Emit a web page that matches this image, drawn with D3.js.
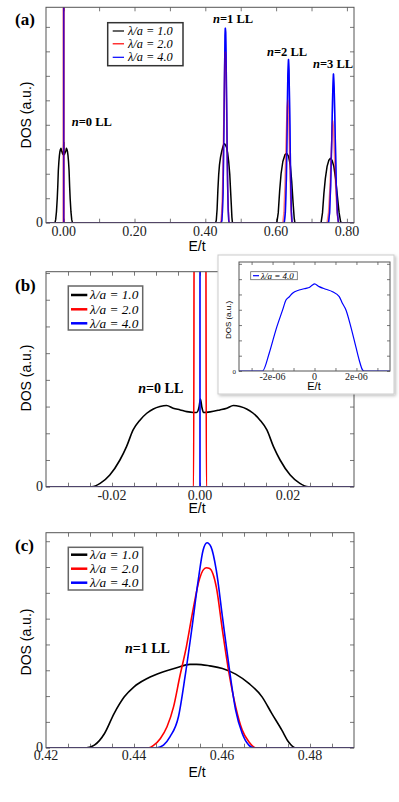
<!DOCTYPE html>
<html><head><meta charset="utf-8">
<script src="https://cdn.jsdelivr.net/npm/d3@7/dist/d3.min.js"></script>
<style>body{margin:0;background:#fff}svg{display:block}</style>
</head><body>
<svg id="c" width="399" height="802"></svg>
<script>
// ---------- data ----------
const seriesNames = ["λ/a = 1.0", "λ/a = 2.0", "λ/a = 4.0"];
const seriesColors = ["#000000", "#ff0000", "#0000ff"];
// [E/t, DOS] pairs
const black = [
 [-0.05,0],[-0.0246,0],[-0.0227,0.125],[-0.0205,0.44],[-0.0182,1.0],[-0.0167,1.5],[-0.0152,2.125],[-0.0136,2.5],[-0.0121,2.75],[-0.0106,2.91],[-0.0091,3.0],[-0.0076,3.04],[-0.0061,2.94],[-0.0045,2.875],[-0.0030,2.81],[-0.0015,2.78],[-0.0008,2.78],[-0.0002,3.0],[0.0001,3.28],[0.0004,3.0],[0.0008,2.78],[0.0023,2.8],[0.0045,2.875],[0.0061,2.94],[0.0076,3.04],[0.0091,3.0],[0.0106,2.91],[0.0121,2.75],[0.0136,2.5],[0.0152,2.125],[0.0167,1.5],[0.0182,1.0],[0.0205,0.44],[0.0227,0.125],[0.0246,0],
 [0.4292,0],[0.4310,0.10],[0.4333,0.55],[0.4355,1.33],[0.4378,1.97],[0.4400,2.36],[0.4430,2.68],[0.4467,2.94],[0.4497,3.10],[0.4527,3.23],[0.4542,3.23],[0.4572,3.17],[0.4601,3.07],[0.4631,2.85],[0.4661,2.49],[0.4691,1.97],[0.4713,1.33],[0.4736,0.68],[0.4751,0.23],[0.4766,0],
 [0.602,0],[0.606,0.4],[0.610,1.3],[0.614,2.0],[0.619,2.5],[0.625,2.78],[0.630,2.83],[0.635,2.72],[0.640,2.35],[0.644,1.7],[0.648,0.8],[0.651,0.2],[0.653,0],
 [0.727,0],[0.731,0.4],[0.735,1.2],[0.739,1.8],[0.744,2.3],[0.749,2.55],[0.753,2.63],[0.758,2.55],[0.763,2.3],[0.768,1.8],[0.773,1.1],[0.778,0.4],[0.782,0.05],[0.784,0],
 [0.82,0]
];
const red = [
 [-0.05,0],[-0.00145,0],[-0.0013,25],[-0.0008,90],[0,120],[0.0008,90],[0.0013,25],[0.00145,0],
 [0.4434,0],[0.4445,0.10],[0.4460,0.36],[0.4475,0.81],[0.4490,1.59],[0.4504,2.75],[0.4519,3.91],[0.4534,5.33],[0.4549,6.55],[0.4564,6.97],[0.4572,6.94],[0.4587,6.23],[0.4601,4.55],[0.4616,2.88],[0.4631,1.59],[0.4646,0.68],[0.4661,0.23],[0.4676,0],
 [0.619,0],[0.622,0.4],[0.625,1.5],[0.628,3.2],[0.631,4.7],[0.633,5.0],[0.635,4.6],[0.638,2.8],[0.641,1.0],[0.643,0.2],[0.645,0],
 [0.744,0],[0.748,0.4],[0.752,1.4],[0.756,2.9],[0.759,4.0],[0.760,4.16],[0.762,3.9],[0.765,2.7],[0.769,1.2],[0.773,0.3],[0.776,0],
 [0.82,0]
];
const blue = [
 [-0.05,0],[-0.0000025,0],[0,3000],[0.0000024,0],
 [0.4452,0],[0.4467,0.10],[0.4482,0.43],[0.4501,1.20],[0.4516,2.75],[0.4531,4.55],[0.4546,6.49],[0.4557,7.65],[0.4566,7.94],[0.4575,7.78],[0.4587,6.88],[0.4601,5.07],[0.4616,3.14],[0.4631,1.46],[0.4646,0.55],[0.4661,0.10],[0.4672,0],
 [0.623,0],[0.626,0.4],[0.629,1.8],[0.631,3.8],[0.633,6.0],[0.635,6.67],[0.6365,6.2],[0.639,4.0],[0.641,1.8],[0.643,0.5],[0.645,0],
 [0.748,0],[0.751,0.4],[0.754,1.5],[0.757,3.3],[0.760,5.4],[0.762,6.07],[0.764,5.5],[0.767,3.5],[0.770,1.5],[0.773,0.4],[0.776,0],
 [0.82,0]
];
const insetBlue = [
 [-3.6e-6,0],[-2.48e-6,0],[-2.16e-6,1.16],[-1.84e-6,2.69],[-1.52e-6,3.99],[-1.36e-6,4.64],[-1.2e-6,4.85],[-1.05e-6,5.08],[-0.73e-6,5.29],[-0.41e-6,5.40],[-0.25e-6,5.45],[-0.10e-6,5.62],[0,5.69],[0.22e-6,5.51],[0.54e-6,5.34],[0.86e-6,5.18],[1.18e-6,4.86],[1.33e-6,4.42],[1.50e-6,3.99],[1.73e-6,2.90],[1.97e-6,1.59],[2.13e-6,0.72],[2.29e-6,0.07],[2.37e-6,0],[3.6e-6,0]
];
// ticks
const xTicksA = [0,0.1,0.2,0.3,0.4,0.5,0.6,0.7,0.8];
const xLabelsA = [[0,"0.00"],[0.2,"0.20"],[0.4,"0.40"],[0.6,"0.60"],[0.8,"0.80"]];
const xTicksB = [-0.03,-0.025,-0.02,-0.015,-0.01,-0.005,0,0.005,0.01,0.015,0.02,0.025,0.03];
const xLabelsB = [[-0.02,"-0.02"],[0,"0.00"],[0.02,"0.02"]];
const xTicksC = [0.425,0.43,0.435,0.44,0.445,0.45,0.455,0.46,0.465,0.47,0.475,0.48,0.485];
const xLabelsC = [[0.42,"0.42"],[0.44,"0.44"],[0.46,"0.46"],[0.48,"0.48"]];
const xTicksInset = [-3e-6,-2e-6,-1e-6,0,1e-6,2e-6,3e-6];
const xLabelsInset = [[-2e-6,"-2e-06"],[0,"0"],[2e-6,"2e-06"]];
const yTicksMain = [0,1,2,3,4,5,6,7,8];
const yTicksInset = [0,1,2,3,4,5,6,7];

// ---------- drawing ----------
const svg = d3.select("#c");
const serif = "Liberation Serif, Times New Roman, serif";
const sans = "Liberation Sans, Arial, sans-serif";
const frameCol = "#555";
let clipId = 0;

function panel(o){
  const x = d3.scaleLinear().domain(o.xDomain).range([o.left,o.right]);
  const y = d3.scaleLinear().domain(o.yDomain).range([o.bottom,o.top]);
  const g = svg.append("g");
  const id = "clip"+(clipId++);
  g.append("clipPath").attr("id",id).append("rect")
    .attr("x",o.left).attr("y",o.top).attr("width",o.right-o.left).attr("height",o.bottom-o.top);
  const tl = o.tickLen||4;
  const axB = d3.axisBottom(x).tickValues(o.xTicks).tickSize(-tl).tickFormat("");
  const axT = d3.axisTop(x).tickValues(o.xTicks).tickSize(-tl).tickFormat("");
  const axL = d3.axisLeft(y).tickValues(o.yTicks).tickSize(-tl).tickFormat("");
  const axR = d3.axisRight(y).tickValues(o.yTicks).tickSize(-tl).tickFormat("");
  [[axB,`translate(0,${o.bottom})`],[axT,`translate(0,${o.top})`],[axL,`translate(${o.left},0)`],[axR,`translate(${o.right},0)`]].forEach(([ax,tr])=>{
    const a = g.append("g").attr("transform",tr).call(ax);
    a.select(".domain").remove();
    a.selectAll("line").attr("stroke",frameCol).attr("stroke-width",0.8);
  });
  const line = d3.line().x(d=>x(d[0])).y(d=>y(Math.min(d[1], o.yDomain[1]*1.5))).curve(o.curve||d3.curveMonotoneX);
  if (line.digits) line.digits(null);
  const lg = g.append("g").attr("clip-path",`url(#${id})`);
  o.series.forEach((s,i)=>{
    lg.append("path").datum(s.data).attr("d",line).attr("fill","none")
      .attr("stroke",s.color).attr("stroke-width",o.lw)
      .attr("stroke-opacity",s.opacity||1).attr("stroke-linejoin","round").attr("stroke-linecap","round");
  });
  g.append("rect").attr("x",o.left).attr("y",o.top).attr("width",o.right-o.left).attr("height",o.bottom-o.top)
    .attr("fill","none").attr("stroke",frameCol).attr("stroke-width",1);
  g.selectAll(null).data(o.xLabels).enter().append("text")
    .attr("x",d=>x(d[0])).attr("y",o.labelY).attr("text-anchor","middle")
    .attr("font-family",serif).attr("font-size",o.tickFont).attr("fill","#222").text(d=>d[1]);
  g.append("text").attr("x",o.left-3).attr("y",o.bottom+o.tickFont*0.33).attr("text-anchor","end")
    .attr("font-family",serif).attr("font-size",o.tickFont*(o.zeroScale||1)).attr("fill","#222").text("0");
  g.append("text").attr("x",(o.left+o.right)/2+o.xtDx).attr("y",o.xtY).attr("text-anchor","middle")
    .attr("font-family",sans).attr("font-size",o.titleFont).text("E/t");
  g.append("text").attr("transform",`translate(${o.ytX},${o.ytY}) rotate(-90)`).attr("text-anchor","middle")
    .attr("font-family",sans).attr("font-size",o.yTitleFont||o.titleFont).text("DOS (a.u.)");
  return {x,y,g};
}

function legend(o){
  const g = svg.append("g");
  g.append("rect").attr("x",o.x0).attr("y",o.y0).attr("width",o.x1-o.x0).attr("height",o.y1-o.y0)
    .attr("fill","#fff").attr("stroke",o.border).attr("stroke-width",o.bw);
  o.items.forEach((it,i)=>{
    const yy = o.rows[i];
    g.append("line").attr("x1",o.lx0).attr("x2",o.lx1).attr("y1",yy).attr("y2",yy)
      .attr("stroke",it.color).attr("stroke-width",o.lw);
    g.append("text").attr("x",o.tx).attr("y",yy+o.font*0.33).attr("font-family",serif)
      .attr("font-style","italic").attr("font-size",o.font).text(it.name);
  });
}

function annot(x,y,num,size){
  const t = svg.append("text").attr("x",x).attr("y",y).attr("font-family",serif)
    .attr("font-weight","bold").attr("font-size",size);
  t.append("tspan").attr("font-style","italic").text("n");
  t.append("tspan").text("="+num+" LL");
}
function plabel(txt,y){
  svg.append("text").attr("x",15).attr("y",y).attr("font-family",serif).attr("font-weight","bold")
    .attr("font-size",17).text(txt);
}

const items = seriesNames.map((n,i)=>({name:n,color:seriesColors[i]}));

// Panel (a): blue drawn first, red semi-transparent on top gives the purple overlap at E=0
panel({left:46,right:354,top:7.3,bottom:222.7,xDomain:[-0.05,0.82],yDomain:[0,8.8],
  xTicks:xTicksA,xLabels:xLabelsA,yTicks:yTicksMain,lw:1.5,labelY:236,tickFont:14,
  xtY:251,xtDx:-3,ytX:31,ytY:115,titleFont:14,curve:d3.curveLinear,
  series:[{data:black,color:seriesColors[0]},{data:blue,color:seriesColors[2]},{data:red,color:seriesColors[1],opacity:0.5},{data:blue,color:seriesColors[2],opacity:0.45}]});
legend({x0:107.7,x1:183,y0:22.7,y1:65.7,rows:[31,43.8,57.3],lx0:112.7,lx1:124,tx:128,font:12.3,lw:1.2,border:"#333",bw:1.5,items});
annot(71.7,125.5,0,12.5); annot(213,23,1,12.5); annot(267,56,2,12.5); annot(313,68,3,12.5);
plabel("(a)",25);

// Panel (b)
panel({left:46,right:354,top:271.7,bottom:486.7,xDomain:[-0.035,0.035],yDomain:[0,8.05],
  xTicks:xTicksB,xLabels:xLabelsB,yTicks:yTicksMain,lw:1.6,labelY:500,tickFont:14,
  xtY:512.5,xtDx:-3,ytX:31,ytY:378,titleFont:14,
  series:[{data:black,color:seriesColors[0]},{data:red,color:seriesColors[1]},{data:blue,color:seriesColors[2]}]});
legend({x0:68.3,x1:142.7,y0:286,y1:330,rows:[295,309.3,323.3],lx0:71,lx1:87.3,tx:90,font:13.3,lw:2.5,border:"#666",bw:1.5,items});
annot(138.3,393,0,14);
plabel("(b)",291);

// Inset
const defs = svg.append("defs");
const f = defs.append("filter").attr("id","sh").attr("x","-10%").attr("y","-10%").attr("width","130%").attr("height","130%");
f.append("feDropShadow").attr("dx",1.5).attr("dy",1.5).attr("stdDeviation",1.5).attr("flood-color","#000").attr("flood-opacity",0.25);
svg.append("rect").attr("x",218).attr("y",255).attr("width",176).attr("height",139)
  .attr("fill","#fff").attr("stroke","#ccc").attr("stroke-width",1).attr("filter","url(#sh)");
panel({left:239,right:390,top:262,bottom:371,xDomain:[-3.6e-6,3.6e-6],yDomain:[0,7.12],
  xTicks:xTicksInset,xLabels:xLabelsInset,yTicks:yTicksInset,lw:1.2,labelY:379.5,tickFont:10,tickLen:3,
  zeroScale:0.7,xtY:390,xtDx:-0.5,ytX:231,ytY:320,titleFont:11,yTitleFont:8,
  series:[{data:insetBlue,color:seriesColors[2]}]});
legend({x0:250.7,x1:297.3,y0:271.7,y1:279.7,rows:[275.7],lx0:253,lx1:259,tx:261,font:9,lw:1.2,border:"#666",bw:0.8,
  items:[items[2]]});

// Panel (c)
panel({left:46,right:354,top:532.7,bottom:747.7,xDomain:[0.42,0.49],yDomain:[0,8.33],
  xTicks:xTicksC,xLabels:xLabelsC,yTicks:yTicksMain,lw:1.6,labelY:759.5,tickFont:14,
  xtY:777,xtDx:-3,ytX:31,ytY:642,titleFont:14,
  series:[{data:black,color:seriesColors[0]},{data:red,color:seriesColors[1]},{data:blue,color:seriesColors[2]}]});
legend({x0:68.3,x1:142.7,y0:547.3,y1:590,rows:[554.7,568.7,582.7],lx0:71,lx1:87.3,tx:90,font:13.3,lw:2.5,border:"#666",bw:1.5,items});
annot(125,653,1,14);
plabel("(c)",551);
</script>
</body></html>
